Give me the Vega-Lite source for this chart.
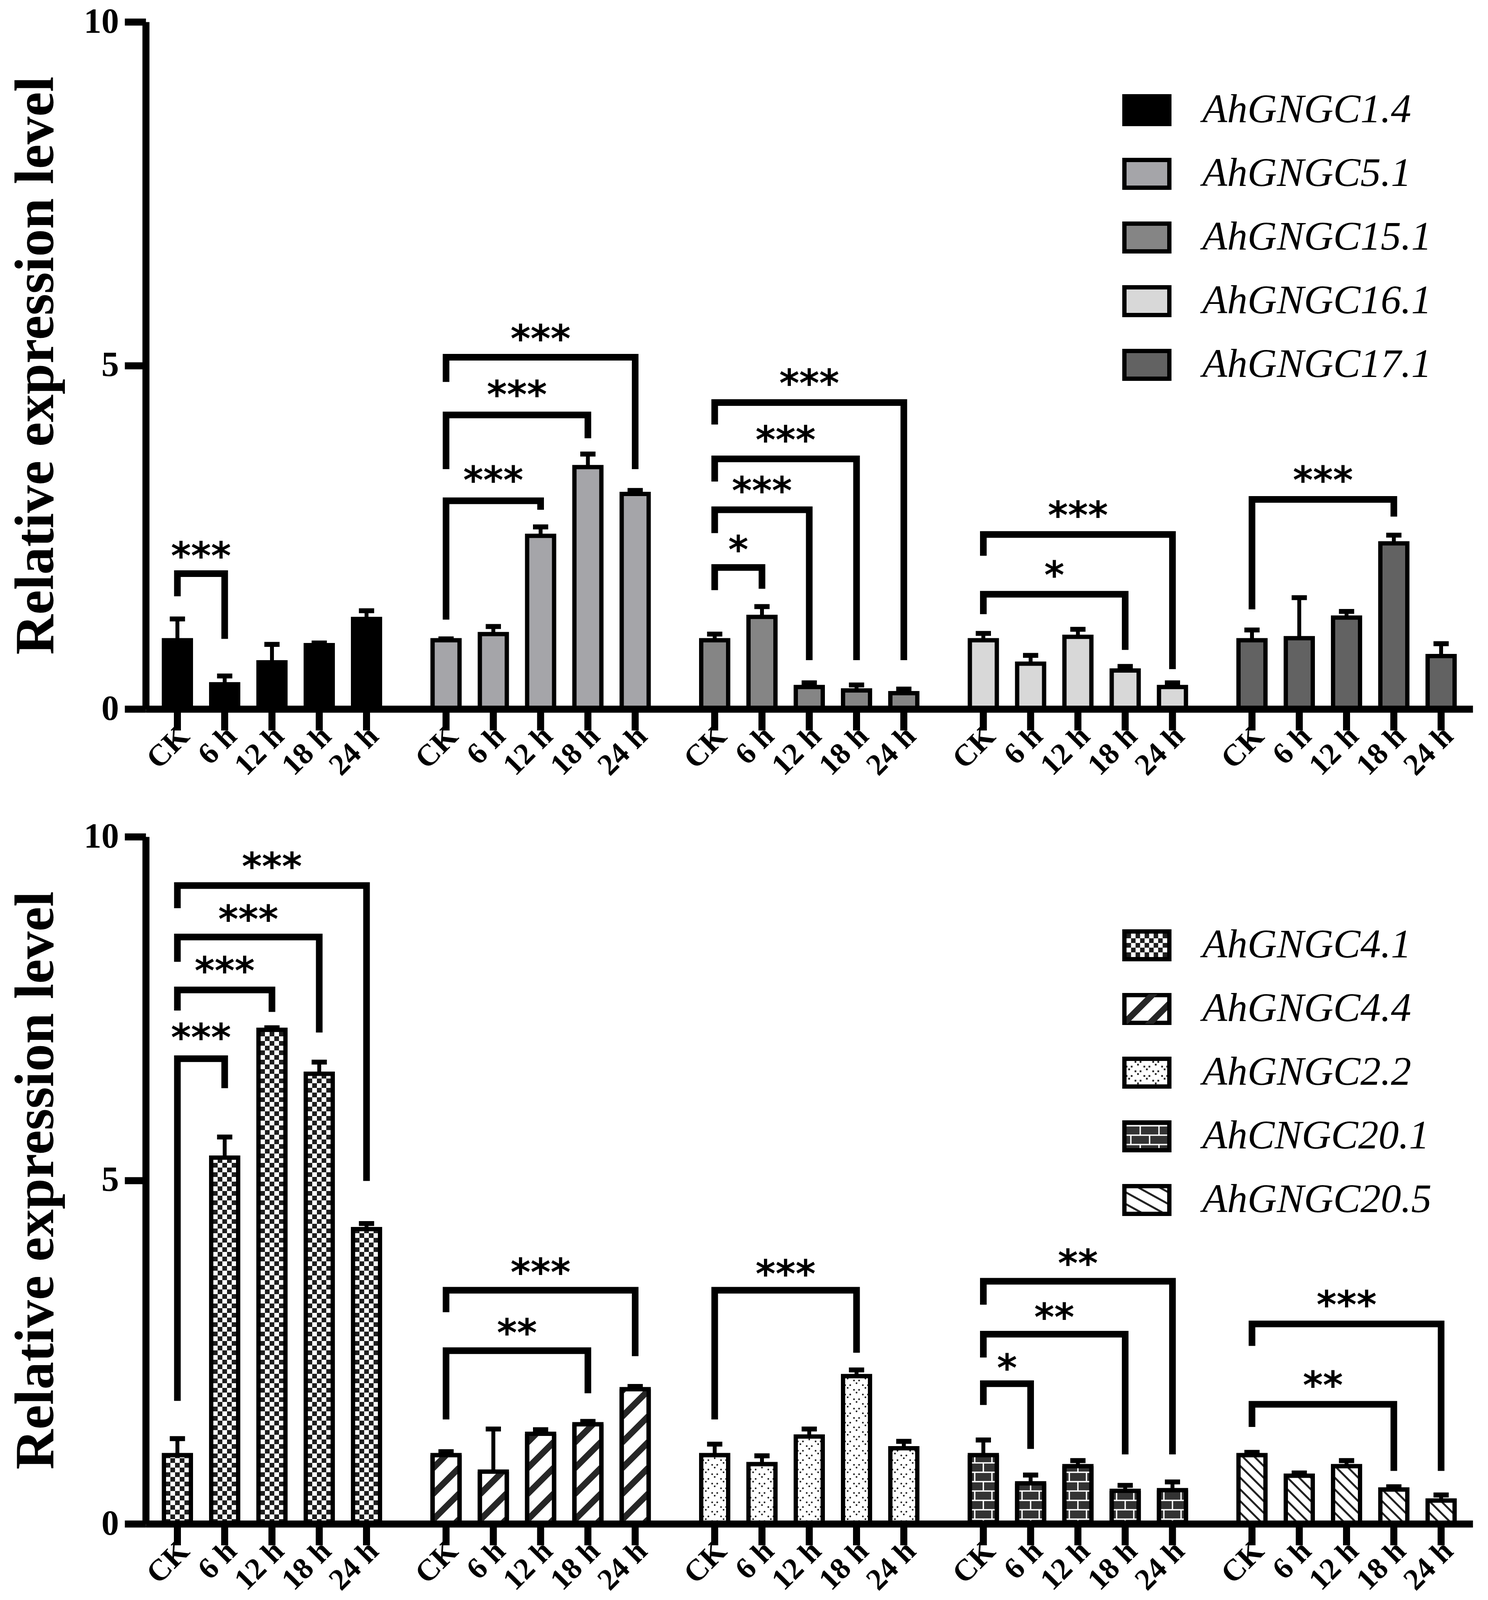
{
  "$schema": "https://vega.github.io/schema/vega-lite/v6.json",
  "padding": {"left": 20, "top": 11, "right": 40, "bottom": 280},
  "background": "white",
  "config": {
    "view": {"stroke": null},
    "axis": {"grid": false, "domainColor": "black", "tickColor": "black", "labelColor": "black", "titleColor": "black"}
  },
  "bounds": "flush",
  "spacing": 327,
  "resolve": {"scale": {"xOffset": "independent", "color": "independent", "fill": "independent", "shape": "independent"}},
  "datasets": {
    "barsT": [
      {"gene": "AhGNGC1.4", "time": "CK", "v": 1.0, "e": 1.31},
      {"gene": "AhGNGC1.4", "time": "6 h", "v": 0.36, "e": 0.48},
      {"gene": "AhGNGC1.4", "time": "12 h", "v": 0.68, "e": 0.94},
      {"gene": "AhGNGC1.4", "time": "18 h", "v": 0.93, "e": 0.96},
      {"gene": "AhGNGC1.4", "time": "24 h", "v": 1.31, "e": 1.43},
      {"gene": "AhGNGC5.1", "time": "CK", "v": 1.0, "e": 1.02},
      {"gene": "AhGNGC5.1", "time": "6 h", "v": 1.09, "e": 1.2},
      {"gene": "AhGNGC5.1", "time": "12 h", "v": 2.52, "e": 2.65},
      {"gene": "AhGNGC5.1", "time": "18 h", "v": 3.52, "e": 3.71},
      {"gene": "AhGNGC5.1", "time": "24 h", "v": 3.13, "e": 3.18},
      {"gene": "AhGNGC15.1", "time": "CK", "v": 1.0, "e": 1.09},
      {"gene": "AhGNGC15.1", "time": "6 h", "v": 1.34, "e": 1.49},
      {"gene": "AhGNGC15.1", "time": "12 h", "v": 0.32, "e": 0.38},
      {"gene": "AhGNGC15.1", "time": "18 h", "v": 0.27, "e": 0.35},
      {"gene": "AhGNGC15.1", "time": "24 h", "v": 0.23, "e": 0.29},
      {"gene": "AhGNGC16.1", "time": "CK", "v": 1.0, "e": 1.1},
      {"gene": "AhGNGC16.1", "time": "6 h", "v": 0.66, "e": 0.78},
      {"gene": "AhGNGC16.1", "time": "12 h", "v": 1.05, "e": 1.16},
      {"gene": "AhGNGC16.1", "time": "18 h", "v": 0.56, "e": 0.62},
      {"gene": "AhGNGC16.1", "time": "24 h", "v": 0.32, "e": 0.38},
      {"gene": "AhGNGC17.1", "time": "CK", "v": 1.0, "e": 1.15},
      {"gene": "AhGNGC17.1", "time": "6 h", "v": 1.03, "e": 1.62},
      {"gene": "AhGNGC17.1", "time": "12 h", "v": 1.33, "e": 1.42},
      {"gene": "AhGNGC17.1", "time": "18 h", "v": 2.41, "e": 2.53},
      {"gene": "AhGNGC17.1", "time": "24 h", "v": 0.77, "e": 0.95}
    ],
    "barsB": [
      {"gene": "AhGNGC4.1", "time": "CK", "v": 1.0, "e": 1.24},
      {"gene": "AhGNGC4.1", "time": "6 h", "v": 5.33, "e": 5.63},
      {"gene": "AhGNGC4.1", "time": "12 h", "v": 7.19, "e": 7.22},
      {"gene": "AhGNGC4.1", "time": "18 h", "v": 6.55, "e": 6.72},
      {"gene": "AhGNGC4.1", "time": "24 h", "v": 4.29, "e": 4.37},
      {"gene": "AhGNGC4.4", "time": "CK", "v": 1.0, "e": 1.05},
      {"gene": "AhGNGC4.4", "time": "6 h", "v": 0.76, "e": 1.38},
      {"gene": "AhGNGC4.4", "time": "12 h", "v": 1.31, "e": 1.37},
      {"gene": "AhGNGC4.4", "time": "18 h", "v": 1.45, "e": 1.49},
      {"gene": "AhGNGC4.4", "time": "24 h", "v": 1.96, "e": 2.0},
      {"gene": "AhGNGC2.2", "time": "CK", "v": 1.0, "e": 1.16},
      {"gene": "AhGNGC2.2", "time": "6 h", "v": 0.87, "e": 0.99},
      {"gene": "AhGNGC2.2", "time": "12 h", "v": 1.27, "e": 1.38},
      {"gene": "AhGNGC2.2", "time": "18 h", "v": 2.15, "e": 2.24},
      {"gene": "AhGNGC2.2", "time": "24 h", "v": 1.1, "e": 1.2},
      {"gene": "AhCNGC20.1", "time": "CK", "v": 1.0, "e": 1.22},
      {"gene": "AhCNGC20.1", "time": "6 h", "v": 0.59, "e": 0.71},
      {"gene": "AhCNGC20.1", "time": "12 h", "v": 0.84, "e": 0.92},
      {"gene": "AhCNGC20.1", "time": "18 h", "v": 0.48, "e": 0.56},
      {"gene": "AhCNGC20.1", "time": "24 h", "v": 0.49, "e": 0.61},
      {"gene": "AhGNGC20.5", "time": "CK", "v": 1.0, "e": 1.04},
      {"gene": "AhGNGC20.5", "time": "6 h", "v": 0.7, "e": 0.74},
      {"gene": "AhGNGC20.5", "time": "12 h", "v": 0.84, "e": 0.92},
      {"gene": "AhGNGC20.5", "time": "18 h", "v": 0.5, "e": 0.54},
      {"gene": "AhGNGC20.5", "time": "24 h", "v": 0.34, "e": 0.42}
    ],
    "brT": [
      {"b": "t1", "gene": "AhGNGC1.4", "time": "CK", "y": 1.64, "o": 1},
      {"b": "t1", "gene": "AhGNGC1.4", "time": "CK", "y": 1.97, "o": 2},
      {"b": "t1", "gene": "AhGNGC1.4", "time": "6 h", "y": 1.97, "o": 3},
      {"b": "t1", "gene": "AhGNGC1.4", "time": "6 h", "y": 1.02, "o": 4},
      {"b": "t2", "gene": "AhGNGC5.1", "time": "CK", "y": 1.3, "o": 1},
      {"b": "t2", "gene": "AhGNGC5.1", "time": "CK", "y": 3.03, "o": 2},
      {"b": "t2", "gene": "AhGNGC5.1", "time": "12 h", "y": 3.03, "o": 3},
      {"b": "t2", "gene": "AhGNGC5.1", "time": "12 h", "y": 2.9, "o": 4},
      {"b": "t3", "gene": "AhGNGC5.1", "time": "CK", "y": 3.49, "o": 1},
      {"b": "t3", "gene": "AhGNGC5.1", "time": "CK", "y": 4.28, "o": 2},
      {"b": "t3", "gene": "AhGNGC5.1", "time": "18 h", "y": 4.28, "o": 3},
      {"b": "t3", "gene": "AhGNGC5.1", "time": "18 h", "y": 3.94, "o": 4},
      {"b": "t4", "gene": "AhGNGC5.1", "time": "CK", "y": 4.76, "o": 1},
      {"b": "t4", "gene": "AhGNGC5.1", "time": "CK", "y": 5.12, "o": 2},
      {"b": "t4", "gene": "AhGNGC5.1", "time": "24 h", "y": 5.12, "o": 3},
      {"b": "t4", "gene": "AhGNGC5.1", "time": "24 h", "y": 3.49, "o": 4},
      {"b": "t5", "gene": "AhGNGC15.1", "time": "CK", "y": 1.73, "o": 1},
      {"b": "t5", "gene": "AhGNGC15.1", "time": "CK", "y": 2.06, "o": 2},
      {"b": "t5", "gene": "AhGNGC15.1", "time": "6 h", "y": 2.06, "o": 3},
      {"b": "t5", "gene": "AhGNGC15.1", "time": "6 h", "y": 1.75, "o": 4},
      {"b": "t6", "gene": "AhGNGC15.1", "time": "CK", "y": 2.56, "o": 1},
      {"b": "t6", "gene": "AhGNGC15.1", "time": "CK", "y": 2.9, "o": 2},
      {"b": "t6", "gene": "AhGNGC15.1", "time": "12 h", "y": 2.9, "o": 3},
      {"b": "t6", "gene": "AhGNGC15.1", "time": "12 h", "y": 0.71, "o": 4},
      {"b": "t7", "gene": "AhGNGC15.1", "time": "CK", "y": 3.31, "o": 1},
      {"b": "t7", "gene": "AhGNGC15.1", "time": "CK", "y": 3.64, "o": 2},
      {"b": "t7", "gene": "AhGNGC15.1", "time": "18 h", "y": 3.64, "o": 3},
      {"b": "t7", "gene": "AhGNGC15.1", "time": "18 h", "y": 0.71, "o": 4},
      {"b": "t8", "gene": "AhGNGC15.1", "time": "CK", "y": 4.14, "o": 1},
      {"b": "t8", "gene": "AhGNGC15.1", "time": "CK", "y": 4.46, "o": 2},
      {"b": "t8", "gene": "AhGNGC15.1", "time": "24 h", "y": 4.46, "o": 3},
      {"b": "t8", "gene": "AhGNGC15.1", "time": "24 h", "y": 0.71, "o": 4},
      {"b": "t9", "gene": "AhGNGC16.1", "time": "CK", "y": 1.38, "o": 1},
      {"b": "t9", "gene": "AhGNGC16.1", "time": "CK", "y": 1.67, "o": 2},
      {"b": "t9", "gene": "AhGNGC16.1", "time": "18 h", "y": 1.67, "o": 3},
      {"b": "t9", "gene": "AhGNGC16.1", "time": "18 h", "y": 0.86, "o": 4},
      {"b": "t10", "gene": "AhGNGC16.1", "time": "CK", "y": 2.23, "o": 1},
      {"b": "t10", "gene": "AhGNGC16.1", "time": "CK", "y": 2.54, "o": 2},
      {"b": "t10", "gene": "AhGNGC16.1", "time": "24 h", "y": 2.54, "o": 3},
      {"b": "t10", "gene": "AhGNGC16.1", "time": "24 h", "y": 0.58, "o": 4},
      {"b": "t11", "gene": "AhGNGC17.1", "time": "CK", "y": 1.45, "o": 1},
      {"b": "t11", "gene": "AhGNGC17.1", "time": "CK", "y": 3.05, "o": 2},
      {"b": "t11", "gene": "AhGNGC17.1", "time": "18 h", "y": 3.05, "o": 3},
      {"b": "t11", "gene": "AhGNGC17.1", "time": "18 h", "y": 2.8, "o": 4}
    ],
    "brB": [
      {"b": "b1", "gene": "AhGNGC4.1", "time": "CK", "y": 1.79, "o": 1},
      {"b": "b1", "gene": "AhGNGC4.1", "time": "CK", "y": 6.77, "o": 2},
      {"b": "b1", "gene": "AhGNGC4.1", "time": "6 h", "y": 6.77, "o": 3},
      {"b": "b1", "gene": "AhGNGC4.1", "time": "6 h", "y": 6.34, "o": 4},
      {"b": "b2", "gene": "AhGNGC4.1", "time": "CK", "y": 7.47, "o": 1},
      {"b": "b2", "gene": "AhGNGC4.1", "time": "CK", "y": 7.77, "o": 2},
      {"b": "b2", "gene": "AhGNGC4.1", "time": "12 h", "y": 7.77, "o": 3},
      {"b": "b2", "gene": "AhGNGC4.1", "time": "12 h", "y": 7.45, "o": 4},
      {"b": "b3", "gene": "AhGNGC4.1", "time": "CK", "y": 8.18, "o": 1},
      {"b": "b3", "gene": "AhGNGC4.1", "time": "CK", "y": 8.54, "o": 2},
      {"b": "b3", "gene": "AhGNGC4.1", "time": "18 h", "y": 8.54, "o": 3},
      {"b": "b3", "gene": "AhGNGC4.1", "time": "18 h", "y": 7.15, "o": 4},
      {"b": "b4", "gene": "AhGNGC4.1", "time": "CK", "y": 8.96, "o": 1},
      {"b": "b4", "gene": "AhGNGC4.1", "time": "CK", "y": 9.29, "o": 2},
      {"b": "b4", "gene": "AhGNGC4.1", "time": "24 h", "y": 9.29, "o": 3},
      {"b": "b4", "gene": "AhGNGC4.1", "time": "24 h", "y": 4.99, "o": 4},
      {"b": "b5", "gene": "AhGNGC4.4", "time": "CK", "y": 1.52, "o": 1},
      {"b": "b5", "gene": "AhGNGC4.4", "time": "CK", "y": 2.52, "o": 2},
      {"b": "b5", "gene": "AhGNGC4.4", "time": "18 h", "y": 2.52, "o": 3},
      {"b": "b5", "gene": "AhGNGC4.4", "time": "18 h", "y": 1.9, "o": 4},
      {"b": "b6", "gene": "AhGNGC4.4", "time": "CK", "y": 3.08, "o": 1},
      {"b": "b6", "gene": "AhGNGC4.4", "time": "CK", "y": 3.4, "o": 2},
      {"b": "b6", "gene": "AhGNGC4.4", "time": "24 h", "y": 3.4, "o": 3},
      {"b": "b6", "gene": "AhGNGC4.4", "time": "24 h", "y": 2.44, "o": 4},
      {"b": "b7", "gene": "AhGNGC2.2", "time": "CK", "y": 1.52, "o": 1},
      {"b": "b7", "gene": "AhGNGC2.2", "time": "CK", "y": 3.4, "o": 2},
      {"b": "b7", "gene": "AhGNGC2.2", "time": "18 h", "y": 3.4, "o": 3},
      {"b": "b7", "gene": "AhGNGC2.2", "time": "18 h", "y": 2.49, "o": 4},
      {"b": "b8", "gene": "AhCNGC20.1", "time": "CK", "y": 1.73, "o": 1},
      {"b": "b8", "gene": "AhCNGC20.1", "time": "CK", "y": 2.04, "o": 2},
      {"b": "b8", "gene": "AhCNGC20.1", "time": "6 h", "y": 2.04, "o": 3},
      {"b": "b8", "gene": "AhCNGC20.1", "time": "6 h", "y": 1.09, "o": 4},
      {"b": "b9", "gene": "AhCNGC20.1", "time": "CK", "y": 2.42, "o": 1},
      {"b": "b9", "gene": "AhCNGC20.1", "time": "CK", "y": 2.76, "o": 2},
      {"b": "b9", "gene": "AhCNGC20.1", "time": "18 h", "y": 2.76, "o": 3},
      {"b": "b9", "gene": "AhCNGC20.1", "time": "18 h", "y": 1.01, "o": 4},
      {"b": "b10", "gene": "AhCNGC20.1", "time": "CK", "y": 3.19, "o": 1},
      {"b": "b10", "gene": "AhCNGC20.1", "time": "CK", "y": 3.53, "o": 2},
      {"b": "b10", "gene": "AhCNGC20.1", "time": "24 h", "y": 3.53, "o": 3},
      {"b": "b10", "gene": "AhCNGC20.1", "time": "24 h", "y": 1.01, "o": 4},
      {"b": "b11", "gene": "AhGNGC20.5", "time": "CK", "y": 1.41, "o": 1},
      {"b": "b11", "gene": "AhGNGC20.5", "time": "CK", "y": 1.74, "o": 2},
      {"b": "b11", "gene": "AhGNGC20.5", "time": "18 h", "y": 1.74, "o": 3},
      {"b": "b11", "gene": "AhGNGC20.5", "time": "18 h", "y": 0.77, "o": 4},
      {"b": "b12", "gene": "AhGNGC20.5", "time": "CK", "y": 2.59, "o": 1},
      {"b": "b12", "gene": "AhGNGC20.5", "time": "CK", "y": 2.91, "o": 2},
      {"b": "b12", "gene": "AhGNGC20.5", "time": "24 h", "y": 2.91, "o": 3},
      {"b": "b12", "gene": "AhGNGC20.5", "time": "24 h", "y": 0.77, "o": 4}
    ],
    "stT": [
      {"gene": "AhGNGC1.4", "time": "CK", "half": true, "y": 2.36, "s": "***"},
      {"gene": "AhGNGC5.1", "time": "6 h", "half": false, "y": 3.46, "s": "***"},
      {"gene": "AhGNGC5.1", "time": "6 h", "half": true, "y": 4.71, "s": "***"},
      {"gene": "AhGNGC5.1", "time": "12 h", "half": false, "y": 5.52, "s": "***"},
      {"gene": "AhGNGC15.1", "time": "CK", "half": true, "y": 2.45, "s": "*"},
      {"gene": "AhGNGC15.1", "time": "6 h", "half": false, "y": 3.31, "s": "***"},
      {"gene": "AhGNGC15.1", "time": "6 h", "half": true, "y": 4.05, "s": "***"},
      {"gene": "AhGNGC15.1", "time": "12 h", "half": false, "y": 4.87, "s": "***"},
      {"gene": "AhGNGC16.1", "time": "6 h", "half": true, "y": 2.08, "s": "*"},
      {"gene": "AhGNGC16.1", "time": "12 h", "half": false, "y": 2.95, "s": "***"},
      {"gene": "AhGNGC17.1", "time": "6 h", "half": true, "y": 3.46, "s": "***"}
    ],
    "stB": [
      {"gene": "AhGNGC4.1", "time": "CK", "half": true, "y": 7.21, "s": "***"},
      {"gene": "AhGNGC4.1", "time": "6 h", "half": false, "y": 8.18, "s": "***"},
      {"gene": "AhGNGC4.1", "time": "6 h", "half": true, "y": 8.93, "s": "***"},
      {"gene": "AhGNGC4.1", "time": "12 h", "half": false, "y": 9.7, "s": "***"},
      {"gene": "AhGNGC4.4", "time": "6 h", "half": true, "y": 2.91, "s": "**"},
      {"gene": "AhGNGC4.4", "time": "12 h", "half": false, "y": 3.79, "s": "***"},
      {"gene": "AhGNGC2.2", "time": "6 h", "half": true, "y": 3.77, "s": "***"},
      {"gene": "AhCNGC20.1", "time": "CK", "half": true, "y": 2.4, "s": "*"},
      {"gene": "AhCNGC20.1", "time": "6 h", "half": true, "y": 3.14, "s": "**"},
      {"gene": "AhCNGC20.1", "time": "12 h", "half": false, "y": 3.92, "s": "**"},
      {"gene": "AhGNGC20.5", "time": "6 h", "half": true, "y": 2.15, "s": "**"},
      {"gene": "AhGNGC20.5", "time": "12 h", "half": false, "y": 3.32, "s": "***"}
    ],
    "keyB": [
      {"gene": "AhGNGC4.1", "time": "CK"},
      {"gene": "AhGNGC4.4", "time": "CK"},
      {"gene": "AhGNGC2.2", "time": "CK"},
      {"gene": "AhCNGC20.1", "time": "CK"},
      {"gene": "AhGNGC20.5", "time": "CK"}
    ]
  },
  "vconcat": [
    {
      "width": 3396,
      "height": 1759,
      "data": {"name": "barsT"},
      "encoding": {
        "x": {"field": "gene", "type": "nominal", "scale": {"domain": ["AhGNGC1.4", "AhGNGC5.1", "AhGNGC15.1", "AhGNGC16.1", "AhGNGC17.1"], "paddingInner": 0.12, "paddingOuter": 0.0298}, "axis": {"title": null, "labels": false, "ticks": false, "domainWidth": 18, "domainColor": "black", "zindex": 1}},
        "xOffset": {"field": "time", "type": "nominal", "scale": {"domain": ["CK", "6 h", "12 h", "18 h", "24 h"], "paddingInner": 0.4298, "paddingOuter": 0.2149}}
      },
      "layer": [
        {
          "mark": {"type": "bar", "stroke": "black", "strokeWidth": 11, "strokeJoin": "miter"},
          "encoding": {
            "y": {"field": "v", "type": "quantitative", "scale": {"domain": [0, 10], "nice": false},
              "axis": {"title": "Relative expression level", "titleFont": "Liberation Serif", "titleFontSize": 142, "titleFontWeight": "bold", "titleX": -238, "titleBaseline": "alphabetic", "titleColor": "black",
                "values": [0, 5, 10], "format": "d", "tickSize": 54,
                "tickWidth": 18, "domainWidth": 18, "labelFont": "Liberation Serif", "labelFontWeight": "bold", "labelFontSize": 90, "labelPadding": 15, "grid": false}},
            "color": {"field": "gene", "type": "nominal",
              "scale": {"domain": ["AhGNGC1.4", "AhGNGC5.1", "AhGNGC15.1", "AhGNGC16.1", "AhGNGC17.1"], "range": ["#000000", "#a5a5a9", "#858585", "#d8d8d8", "#626262"]},
              "legend": {"orient": "none", "legendX": 2510, "legendY": 174, "title": null, "symbolType": "M-57.5,-35.5H57.5V35.5H-57.5Z", "symbolSize": 4, "symbolStrokeColor": "black", "symbolStrokeWidth": 11, "symbolOpacity": 1, "labelFont": "Liberation Serif", "labelFontStyle": "italic", "labelFontSize": 104, "labelColor": "black", "labelOffset": 90, "labelLimit": 1000, "rowPadding": 47, "padding": 0}}
          }
        },
        {"mark": {"type": "rule", "color": "black", "strokeWidth": 10}, "encoding": {"y": {"field": "v", "type": "quantitative"}, "y2": {"field": "e"}}},
        {"mark": {"type": "tick", "color": "black", "opacity": 1, "size": 39, "thickness": 12.6}, "encoding": {"y": {"field": "e", "type": "quantitative"}}},
        {"mark": {"type": "rule", "color": "black", "strokeWidth": 18, "y2Offset": 55}, "encoding": {"y": {"datum": 0}, "y2": {"datum": 0}}},
        {"mark": {"type": "text", "angle": 315, "align": "right", "baseline": "alphabetic", "dx": -28, "dy": 77, "font": "Liberation Serif", "fontWeight": "bold", "fontSize": 78, "color": "black"}, "encoding": {"y": {"datum": 0}, "text": {"field": "time"}}},
        {"data": {"name": "brT"}, "mark": {"type": "line", "color": "black", "strokeWidth": 17, "strokeJoin": "miter", "strokeCap": "butt"}, "encoding": {"y": {"field": "y", "type": "quantitative"}, "detail": {"field": "b"}, "order": {"field": "o", "type": "quantitative"}}},
        {"data": {"name": "stT"}, "transform": [{"filter": "datum.half"}], "mark": {"type": "text", "font": "DejaVu Sans", "fontWeight": "bold", "fontSize": 98, "align": "center", "baseline": "alphabetic", "dx": 60.5, "dy": 57, "color": "black"}, "encoding": {"y": {"field": "y", "type": "quantitative"}, "text": {"field": "s"}}},
        {"data": {"name": "stT"}, "transform": [{"filter": "!datum.half"}], "mark": {"type": "text", "font": "DejaVu Sans", "fontWeight": "bold", "fontSize": 98, "align": "center", "baseline": "alphabetic", "dy": 57, "color": "black"}, "encoding": {"y": {"field": "y", "type": "quantitative"}, "text": {"field": "s"}}}
      ]
    },
    {
      "width": 3396,
      "height": 1759,
      "data": {"name": "barsB"},
      "encoding": {
        "x": {"field": "gene", "type": "nominal", "scale": {"domain": ["AhGNGC4.1", "AhGNGC4.4", "AhGNGC2.2", "AhCNGC20.1", "AhGNGC20.5"], "paddingInner": 0.12, "paddingOuter": 0.0298}, "axis": {"title": null, "labels": false, "ticks": false, "domainWidth": 18, "domainColor": "black", "zindex": 1}},
        "xOffset": {"field": "time", "type": "nominal", "scale": {"domain": ["CK", "6 h", "12 h", "18 h", "24 h"], "paddingInner": 0.4298, "paddingOuter": 0.2149}}
      },
      "layer": [
        {
          "mark": {"type": "bar", "stroke": "black", "strokeWidth": 11, "strokeJoin": "miter"},
          "encoding": {
            "y": {"field": "v", "type": "quantitative", "scale": {"domain": [0, 10], "nice": false},
              "axis": {"title": "Relative expression level", "titleFont": "Liberation Serif", "titleFontSize": 142, "titleFontWeight": "bold", "titleX": -238, "titleBaseline": "alphabetic", "titleColor": "black",
                "values": [0, 5, 10], "format": "d", "tickSize": 54,
                "tickWidth": 18, "domainWidth": 18, "labelFont": "Liberation Serif", "labelFontWeight": "bold", "labelFontSize": 90, "labelPadding": 15, "grid": false}},
            "color": {"field": "gene", "type": "nominal",
              "scale": {"domain": ["AhGNGC4.1", "AhGNGC4.4", "AhGNGC2.2", "AhCNGC20.1", "AhGNGC20.5"], "range": ["#ffffff", "#ffffff", "#ffffff", "#333333", "#ffffff"]},
              "legend": {"orient": "none", "legendX": 2510, "legendY": 226, "title": null, "symbolType": "M-57.5,-35.5H57.5V35.5H-57.5Z", "symbolSize": 4, "symbolStrokeColor": "black", "symbolStrokeWidth": 11, "symbolOpacity": 1, "labelFont": "Liberation Serif", "labelFontStyle": "italic", "labelFontSize": 104, "labelColor": "black", "labelOffset": 90, "labelLimit": 1000, "rowPadding": 47, "padding": 0}}
          }
        },
        {"transform": [{"filter": "datum.gene === 'AhGNGC4.1'"}],
         "mark": {"type": "point", "filled": false, "opacity": 1, "size": 4, "stroke": "#1e1e1e", "strokeWidth": 12, "strokeDash": [12, 12],
           "shape": "M-30,631.6h60m-48,-12h48m-60,-12h60m-48,-12h48m-60,-12h60m-48,-12h48m-60,-12h60m-48,-12h48m-60,-12h60m-48,-12h48m-60,-12h60m-48,-12h48m-60,-12h60m-48,-12h48m-60,-12h60m-48,-12h48m-60,-12h60m-48,-12h48m-60,-12h60m-48,-12h48m-60,-12h60m-48,-12h48m-60,-12h60m-48,-12h48m-60,-12h60m-48,-12h48m-60,-12h60m-48,-12h48m-60,-12h60m-48,-12h48m-60,-12h60m-48,-12h48m-60,-12h60m-48,-12h48m-60,-12h60m-48,-12h48m-60,-12h60m-48,-12h48m-60,-12h60m-48,-12h48m-60,-12h60m-48,-12h48m-60,-12h60m-48,-12h48m-60,-12h60m-48,-12h48m-60,-12h60m-48,-12h48m-60,-12h60m-48,-12h48m-60,-12h60m-48,-12h48m-60,-12h60m-48,-12h48m-60,-12h60m-48,-12h48m-60,-12h60m-48,-12h48m-60,-12h60m-48,-12h48m-60,-12h60m-48,-12h48m-60,-12h60m-48,-12h48m-60,-12h60m-48,-12h48m-60,-12h60m-48,-12h48m-60,-12h60m-48,-12h48m-60,-12h60m-48,-12h48m-60,-12h60m-48,-12h48m-60,-12h60m-48,-12h48m-60,-12h60m-48,-12h48m-60,-12h60m-48,-12h48m-60,-12h60m-48,-12h48m-60,-12h60m-48,-12h48m-60,-12h60m-48,-12h48m-60,-12h60m-48,-12h48m-60,-12h60m-48,-12h48m-60,-12h60m-48,-12h48m-60,-12h60m-48,-12h48m-60,-12h60m-48,-12h48m-60,-12h60m-48,-12h48m-60,-12h60m-48,-12h48m-60,-12h60m-48,-12h48m-60,-12h60m-48,-12h48m-60,-12h60m-48,-12h48m-60,-12h60m-48,-12h48"},
         "encoding": {"y": {"datum": 3.625}}},
        {"transform": [{"filter": "datum.gene === 'AhGNGC4.1'"}], "mark": {"type": "bar", "fill": "white", "width": 84}, "encoding": {"y": {"field": "v", "type": "quantitative"}, "y2": {"datum": 10.3}}},
        {"transform": [{"filter": "datum.gene === 'AhGNGC4.4'"}],
         "mark": {"type": "point", "filled": false, "opacity": 1, "size": 4, "stroke": "#262626", "strokeWidth": 16,
           "shape": "M-34,-164L-22.1,-175.9M-34,-98L34,-166M-34,-32L34,-100M-34,34L34,-34M-34,100L34,32M-34,166L34,98M22.1,175.9L34,164"},
         "encoding": {"y": {"datum": 1.0}}},
        {"transform": [{"filter": "datum.gene === 'AhGNGC4.4'"}], "mark": {"type": "bar", "fill": "white", "width": 84}, "encoding": {"y": {"field": "v", "type": "quantitative"}, "y2": {"datum": 2.1}}},
        {"transform": [{"filter": "datum.gene === 'AhGNGC2.2'"}],
         "mark": {"type": "point", "filled": false, "opacity": 1, "size": 4, "stroke": "#222222", "strokeWidth": 4.5, "strokeCap": "round",
           "shape": "M-6.5,186.5h0.01m12.99,0h0.01m-6.51,7h0.01M-6.5,162.5h0.01m12.99,0h0.01m-6.51,7h0.01M-6.5,138.5h0.01m12.99,0h0.01m-6.51,7h0.01M-6.5,114.5h0.01m12.99,0h0.01m-6.51,7h0.01M-6.5,90.5h0.01m12.99,0h0.01m-6.51,7h0.01M-6.5,66.5h0.01m12.99,0h0.01m-6.51,7h0.01M-6.5,42.5h0.01m12.99,0h0.01m-6.51,7h0.01M-6.5,18.5h0.01m12.99,0h0.01m-6.51,7h0.01M-6.5,-5.5h0.01m12.99,0h0.01m-6.51,7h0.01M-6.5,-29.5h0.01m12.99,0h0.01m-6.51,7h0.01M-6.5,-53.5h0.01m12.99,0h0.01m-6.51,7h0.01M-6.5,-77.5h0.01m12.99,0h0.01m-6.51,7h0.01M-6.5,-101.5h0.01m12.99,0h0.01m-6.51,7h0.01M-6.5,-125.5h0.01m12.99,0h0.01m-6.51,7h0.01M-6.5,-149.5h0.01m12.99,0h0.01m-6.51,7h0.01M-6.5,-173.5h0.01m12.99,0h0.01m-6.51,7h0.01M-29.2,174.5h0.01m12.99,0h0.01m32.39,0h0.01m12.99,0h0.01M-22.7,181.5h0.01m45.39,0h0.01M-29.2,150.5h0.01m12.99,0h0.01m32.39,0h0.01m12.99,0h0.01M-22.7,157.5h0.01m45.39,0h0.01M-29.2,126.5h0.01m12.99,0h0.01m32.39,0h0.01m12.99,0h0.01M-22.7,133.5h0.01m45.39,0h0.01M-29.2,102.5h0.01m12.99,0h0.01m32.39,0h0.01m12.99,0h0.01M-22.7,109.5h0.01m45.39,0h0.01M-29.2,78.5h0.01m12.99,0h0.01m32.39,0h0.01m12.99,0h0.01M-22.7,85.5h0.01m45.39,0h0.01M-29.2,54.5h0.01m12.99,0h0.01m32.39,0h0.01m12.99,0h0.01M-22.7,61.5h0.01m45.39,0h0.01M-29.2,30.5h0.01m12.99,0h0.01m32.39,0h0.01m12.99,0h0.01M-22.7,37.5h0.01m45.39,0h0.01M-29.2,6.5h0.01m12.99,0h0.01m32.39,0h0.01m12.99,0h0.01M-22.7,13.5h0.01m45.39,0h0.01M-29.2,-17.5h0.01m12.99,0h0.01m32.39,0h0.01m12.99,0h0.01M-22.7,-10.5h0.01m45.39,0h0.01M-29.2,-41.5h0.01m12.99,0h0.01m32.39,0h0.01m12.99,0h0.01M-22.7,-34.5h0.01m45.39,0h0.01M-29.2,-65.5h0.01m12.99,0h0.01m32.39,0h0.01m12.99,0h0.01M-22.7,-58.5h0.01m45.39,0h0.01M-29.2,-89.5h0.01m12.99,0h0.01m32.39,0h0.01m12.99,0h0.01M-22.7,-82.5h0.01m45.39,0h0.01M-29.2,-113.5h0.01m12.99,0h0.01m32.39,0h0.01m12.99,0h0.01M-22.7,-106.5h0.01m45.39,0h0.01M-29.2,-137.5h0.01m12.99,0h0.01m32.39,0h0.01m12.99,0h0.01M-22.7,-130.5h0.01m45.39,0h0.01M-29.2,-161.5h0.01m12.99,0h0.01m32.39,0h0.01m12.99,0h0.01M-22.7,-154.5h0.01m45.39,0h0.01M-29.2,-185.5h0.01m12.99,0h0.01m32.39,0h0.01m12.99,0h0.01M-22.7,-178.5h0.01m45.39,0h0.01"},
         "encoding": {"y": {"datum": 1.1}}},
        {"transform": [{"filter": "datum.gene === 'AhGNGC2.2'"}], "mark": {"type": "bar", "fill": "white", "width": 84}, "encoding": {"y": {"field": "v", "type": "quantitative"}, "y2": {"datum": 2.3}}},
        {"transform": [{"filter": "datum.gene === 'AhCNGC20.1'"}],
         "mark": {"type": "point", "filled": false, "opacity": 1, "size": 4, "stroke": "#ffffff", "strokeWidth": 3.5,
           "shape": "M-34,76H34M-34,52H34M-34,28H34M-34,4H34M-34,-20H34M-34,-44H34M-34,-68H34M0,87V76M-22,76V52M22,76V52M0,52V28M-22,28V4M22,28V4M0,4V-20M-22,-20V-44M22,-20V-44M0,-44V-68M-22,-68V-87M22,-68V-87"},
         "encoding": {"y": {"datum": 0.5}}},
        {"transform": [{"filter": "datum.gene === 'AhCNGC20.1'"}], "mark": {"type": "bar", "fill": "white", "width": 84}, "encoding": {"y": {"field": "v", "type": "quantitative"}, "y2": {"datum": 1.1}}},
        {"transform": [{"filter": "datum.gene === 'AhGNGC20.5'"}],
         "mark": {"type": "point", "filled": false, "opacity": 1, "size": 4, "stroke": "#222222", "strokeWidth": 5,
           "shape": "M2.05,-87.95L33,-57M-27.95,-87.95L33,-27M-33,-63L33,3M-33,-33L33,33M-33,-3L33,63M-33,27L27.95,87.95M-33,57L-2.05,87.95"},
         "encoding": {"y": {"datum": 0.5}}},
        {"transform": [{"filter": "datum.gene === 'AhGNGC20.5'"}], "mark": {"type": "bar", "fill": "white", "width": 84}, "encoding": {"y": {"field": "v", "type": "quantitative"}, "y2": {"datum": 1.1}}},
        {"mark": {"type": "bar", "fill": "white", "fillOpacity": 0, "stroke": "black", "strokeWidth": 11, "strokeJoin": "miter"}, "encoding": {"y": {"field": "v", "type": "quantitative"}}},
        {"mark": {"type": "rule", "color": "black", "strokeWidth": 10}, "encoding": {"y": {"field": "v", "type": "quantitative"}, "y2": {"field": "e"}}},
        {"mark": {"type": "tick", "color": "black", "opacity": 1, "size": 39, "thickness": 12.6}, "encoding": {"y": {"field": "e", "type": "quantitative"}}},
        {"mark": {"type": "rule", "color": "black", "strokeWidth": 18, "y2Offset": 55}, "encoding": {"y": {"datum": 0}, "y2": {"datum": 0}}},
        {"mark": {"type": "text", "angle": 315, "align": "right", "baseline": "alphabetic", "dx": -28, "dy": 77, "font": "Liberation Serif", "fontWeight": "bold", "fontSize": 78, "color": "black"}, "encoding": {"y": {"datum": 0}, "text": {"field": "time"}}},
        {"data": {"name": "brB"}, "mark": {"type": "line", "color": "black", "strokeWidth": 17, "strokeJoin": "miter", "strokeCap": "butt"}, "encoding": {"y": {"field": "y", "type": "quantitative"}, "detail": {"field": "b"}, "order": {"field": "o", "type": "quantitative"}}},
        {"data": {"name": "stB"}, "transform": [{"filter": "datum.half"}], "mark": {"type": "text", "font": "DejaVu Sans", "fontWeight": "bold", "fontSize": 98, "align": "center", "baseline": "alphabetic", "dx": 60.5, "dy": 57, "color": "black"}, "encoding": {"y": {"field": "y", "type": "quantitative"}, "text": {"field": "s"}}},
        {"data": {"name": "stB"}, "transform": [{"filter": "!datum.half"}], "mark": {"type": "text", "font": "DejaVu Sans", "fontWeight": "bold", "fontSize": 98, "align": "center", "baseline": "alphabetic", "dy": 57, "color": "black"}, "encoding": {"y": {"field": "y", "type": "quantitative"}, "text": {"field": "s"}}},
        {
          "data": {"name": "keyB"},
          "mark": {"type": "point", "filled": true, "opacity": 1, "size": 4, "strokeWidth": 0, "clip": true},
          "encoding": {
            "y": {"datum": -3},
            "fill": {"field": "gene", "type": "nominal", "sort": null,
              "scale": {"range": ["#1e1e1e", "#262626", "#222222", "#ffffff", "#222222"]},
              "legend": {"orient": "none", "legendX": 2510, "legendY": 226, "title": null, "symbolSize": 4, "symbolStrokeWidth": 0, "symbolOpacity": 1, "labelFont": "Liberation Serif", "labelFontStyle": "italic", "labelFontSize": 104, "labelOpacity": 0, "labelOffset": 90, "labelLimit": 1000, "rowPadding": 59, "padding": 0, "zindex": 1}},
            "shape": {"field": "gene", "type": "nominal", "sort": null,
              "scale": {"range": [
                "M-52,-30h11.56v12h-11.56v-12m23.11,0h11.56v12h-11.56v-12m23.11,0h11.56v12h-11.56v-12m23.11,0h11.56v12h-11.56v-12m23.11,0h11.56v12h-11.56v-12M-40.44,-18h11.56v12h-11.56v-12m23.11,0h11.56v12h-11.56v-12m23.11,0h11.56v12h-11.56v-12m23.11,0h11.56v12h-11.56v-12M-52,-6h11.56v12h-11.56v-12m23.11,0h11.56v12h-11.56v-12m23.11,0h11.56v12h-11.56v-12m23.11,0h11.56v12h-11.56v-12m23.11,0h11.56v12h-11.56v-12M-40.44,6h11.56v12h-11.56v-12m23.11,0h11.56v12h-11.56v-12m23.11,0h11.56v12h-11.56v-12m23.11,0h11.56v12h-11.56v-12M-52,18h11.56v12h-11.56v-12m23.11,0h11.56v12h-11.56v-12m23.11,0h11.56v12h-11.56v-12m23.11,0h11.56v12h-11.56v-12m23.11,0h11.56v12h-11.56v-12",
                "M-52,18.7L4.7,-38L27.3,-38L-48.7,38L-52,38ZM-5.3,38L52,-19.3L52,3.3L17.3,38Z",
                "M-8.75,-17.75h4.5v4.5h-4.5zM4.25,-17.75h4.5v4.5h-4.5zM-2.25,-10.75h4.5v4.5h-4.5zM-8.75,6.25h4.5v4.5h-4.5zM4.25,6.25h4.5v4.5h-4.5zM-2.25,13.25h4.5v4.5h-4.5zM-52,-17.75h2.35v4.5h-2.35zM-41.15,-17.75h4.5v4.5h-4.5zM-47.65,-10.75h4.5v4.5h-4.5zM-52,6.25h2.35v4.5h-2.35zM-41.15,6.25h4.5v4.5h-4.5zM-47.65,13.25h4.5v4.5h-4.5zM36.65,-17.75h4.5v4.5h-4.5zM49.65,-17.75h2.35v4.5h-2.35zM43.15,-10.75h4.5v4.5h-4.5zM36.65,6.25h4.5v4.5h-4.5zM49.65,6.25h2.35v4.5h-2.35zM43.15,13.25h4.5v4.5h-4.5zM-31.45,-5.75h4.5v4.5h-4.5zM-18.45,-5.75h4.5v4.5h-4.5zM-24.95,1.25h4.5v4.5h-4.5zM13.95,-5.75h4.5v4.5h-4.5zM26.95,-5.75h4.5v4.5h-4.5zM20.45,1.25h4.5v4.5h-4.5zM-31.45,-29.75h4.5v4.5h-4.5zM-18.45,-29.75h4.5v4.5h-4.5zM-24.95,-22.75h4.5v4.5h-4.5zM13.95,-29.75h4.5v4.5h-4.5zM26.95,-29.75h4.5v4.5h-4.5zM20.45,-22.75h4.5v4.5h-4.5zM-31.45,18.25h4.5v4.5h-4.5zM-18.45,18.25h4.5v4.5h-4.5zM-24.95,25.25h4.5v4.5h-4.5zM13.95,18.25h4.5v4.5h-4.5zM26.95,18.25h4.5v4.5h-4.5zM20.45,25.25h4.5v4.5h-4.5z",
                "M-52,-28.75h104v3.5h-104zM-52,-4.75h104v3.5h-104zM-52,19.25h104v3.5h-104zM-18.75,-27h3.5v24h-3.5zM29.25,-27h3.5v24h-3.5zM-42.75,-3h3.5v24h-3.5zM5.25,-3h3.5v24h-3.5zM-18.75,21h3.5v9h-3.5zM29.25,21h3.5v9h-3.5z",
                "M31.2,-30L41.5,-30L52,-24.25L52,-18.55ZM-23.4,-30L-13,-30L52,5.75L52,11.45ZM-52,-21.45L41.5,30L31.2,30L-52,-15.75ZM-52,8.55L-13,30L-23.4,30L-52,14.25Z"
              ]},
              "legend": {"orient": "none", "legendX": 2510, "legendY": 226, "title": null, "symbolSize": 4, "symbolStrokeWidth": 0, "symbolOpacity": 1, "labelFont": "Liberation Serif", "labelFontStyle": "italic", "labelFontSize": 104, "labelOpacity": 0, "labelOffset": 90, "labelLimit": 1000, "rowPadding": 59, "padding": 0, "zindex": 1}}
          }
        }
      ]
    }
  ]
}
